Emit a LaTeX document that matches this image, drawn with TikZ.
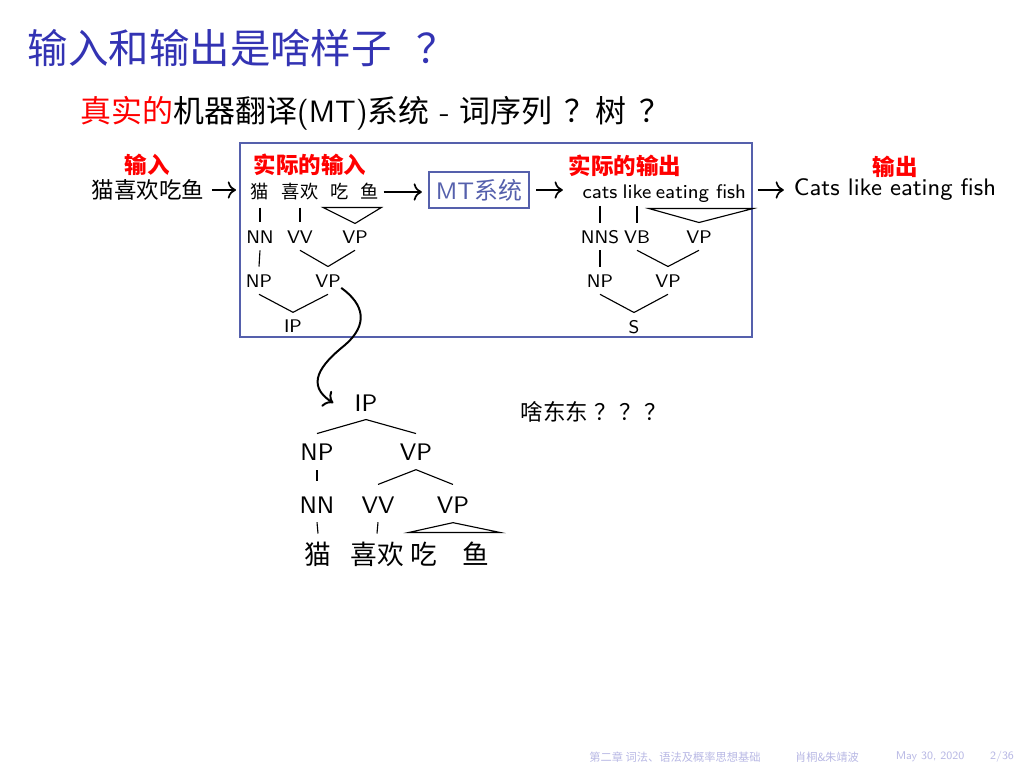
\documentclass[tikz,border=0pt]{standalone}
\usepackage{fontspec}
\newfontfamily\cjk{Noto Sans CJK SC}
\renewcommand{\familydefault}{\sfdefault}
\usetikzlibrary{arrows.meta}

\definecolor{slideblue}{HTML}{3333B3}
\definecolor{boxblue}{HTML}{5560AC}
\definecolor{footblue}{HTML}{B8B8E4}
\tikzstyle{hint} = [text=red, inner sep=0pt, font=\fontsize{8}{9}\selectfont\cjk\bfseries]
\tikzstyle{wd} = [inner sep=0pt, text height=5.5pt, text depth=1pt, font=\fontsize{6.5}{7}\selectfont\cjk]
\tikzstyle{ew} = [inner sep=0pt, text height=5pt, text depth=1.4pt, font=\fontsize{7}{8}\selectfont]
\tikzstyle{tag} = [inner sep=0pt, text height=4.5pt, text depth=0pt, font=\fontsize{6.5}{7}\selectfont]
\tikzstyle{bigwd} = [inner sep=0pt, text height=8pt, text depth=1.5pt, font=\fontsize{9.5}{11}\selectfont\cjk]
\tikzstyle{bigtag} = [inner sep=0pt, text height=5.9pt, text depth=0pt, font=\fontsize{8.5}{10}\selectfont]
\tikzstyle{arr} = [line width=.6pt, -{Computer Modern Rightarrow}]
\tikzstyle{br} = [line width=.4pt]
\tikzstyle{foot} = [inner sep=0pt, text=footblue, font=\fontsize{4}{5}\selectfont]

\begin{document}
\begin{tikzpicture}[x=0.125mm, y=-0.125mm]
\useasboundingbox (0,0) rectangle (1024,768);

% title and first line
\node[anchor=west, inner sep=0pt, text=slideblue, font=\fontsize{14.4}{17}\selectfont\cjk] (ttl) at (27,48) {输入和输出是啥样子\hspace{.6em}？};
\node[anchor=west, inner sep=0pt, font=\fontsize{11}{13}\selectfont] (sub) at (80,113)
	{{\cjk\color{red}真实的}{\cjk 机器翻译}(MT){\cjk 系统} - {\cjk 词序列\hspace{.4em}？树\hspace{.4em}？}};

% input and output
\node[hint] (inL) at (147,165) {输入};
\node[inner sep=0pt, font=\fontsize{8}{9}\selectfont\cjk] (inA) at (148,190) {猫喜欢吃鱼};
\node[hint] (outL) at (895,167) {输出};
\node[inner sep=0pt, font=\fontsize{8.5}{10}\selectfont] (outB) at (895,190) {Cats like eating fish};

% the system
\node[draw=boxblue, line width=.6pt, inner sep=0pt, minimum width=64mm, minimum height=24.25mm] (sys) at (496,240) {};
\node[hint] (actIn) at (310,165) {实际的输入};
\node[hint] (actOut) at (625,166) {实际的输出};
\node[draw=boxblue, line width=.8pt, text=boxblue, inner sep=0pt, minimum width=12.5mm, minimum height=4.5mm,
	font=\fontsize{8.5}{10}\selectfont] (mt) at (479,190) {MT{\cjk 系统}};

% source tree
\node[wd] (w1) at (260,192) {猫};
\node[wd] (w2) at (300,192) {喜欢};
\node[wd] (w3) at (340,192) {吃};
\node[wd] (w4) at (370,192) {鱼};
\node[tag] (t1) at (260,237) {NN};
\node[tag] (t2) at (300,237) {VV};
\node[tag] (t3) at (355,237) {VP};
\node[tag] (p1) at (259,281) {NP};
\node[tag] (p2) at (328,281) {VP};
\node[tag] (r) at (293,326) {IP};
\foreach \a/\b/\g/\h in {w1/t1/.75/1.05, w2/t2/.75/1.05, t1/p1/.8/.95, t2/p2/.8/.95, t3/p2/.8/.95, p1/r/.8/.85, p2/r/.8/.85}
	\draw[br] ([yshift=-\g mm]\a.south) -- ([yshift=\h mm]\b.north);
\draw[br] ([xshift=-.9mm,yshift=-.73mm]w3.south west) -- ([xshift=.2mm,yshift=-.73mm]w4.south east)
	-- ([yshift=.83mm]t3.north) -- cycle;

% target tree
\node[ew] (o1) at (600,193) {cats};
\node[ew] (o2) at (637,193) {like};
\node[ew] (o3) at (701,193) {eating fish};
\node[tag] (u1) at (600,237) {NNS};
\node[tag] (u2) at (637,237) {VB};
\node[tag] (u3) at (699,237) {VP};
\node[tag] (q1) at (600,281) {NP};
\node[tag] (q2) at (668,281) {VP};
\node[tag] (s) at (634,327) {S};
\foreach \a/\b/\g/\h in {o1/u1/.4/.95, o2/u2/.4/.95, u1/q1/.8/.95, u2/q2/.8/.95, u3/q2/.8/.95, q1/s/.8/.95, q2/s/.8/.95}
	\draw[br] ([yshift=-\g mm]\a.south) -- ([yshift=\h mm]\b.north);
\draw[br] ([xshift=-.8mm,yshift=-.75mm]o3.south west) -- ([xshift=.8mm,yshift=-.75mm]o3.south east)
	-- ([yshift=.95mm]u3.north) -- cycle;

% arrows
\draw[arr, shorten <=.9mm, shorten >=.4mm] (inA.east) -- (inA.east -| sys.west);
\draw[arr, shorten <=.5mm, shorten >=.75mm] (w4.east) -- (w4.east -| mt.west);
\draw[arr, shorten <=.75mm, shorten >=2.4mm] (mt.east) -- (mt.east -| o1.west);
\draw[arr, shorten <=.6mm, shorten >=1.2mm] (outB.west -| sys.east) -- (outB.west);

% the tree as it should be
\node[bigtag] (L0) at (366,403) {IP};
\node[bigtag] (L1) at (317,452) {NP};
\node[bigtag] (L2) at (416,452) {VP};
\node[bigtag] (L3) at (317,505) {NN};
\node[bigtag] (L4) at (378,505) {VV};
\node[bigtag] (L5) at (453,505) {VP};
\node[bigwd] (L6) at (318,555) {猫};
\node[bigwd] (L7) at (377,555) {喜欢};
\node[bigwd] (L8) at (424,555) {吃};
\node[bigwd] (L9) at (476,555) {鱼};
\foreach \a/\b/\g/\h in {L0/L1/.96/1.2, L0/L2/.96/1.2, L1/L3/1.2/1.84, L2/L4/1.1/1.46, L2/L5/1.1/1.46, L3/L6/1.05/.95, L4/L7/1.05/.95}
	\draw[br] ([yshift=-\g mm]\a.south) -- ([yshift=\h mm]\b.north);
\draw[br] ([yshift=-1.1mm]L5.south) -- ([xshift=-.2mm,yshift=1.07mm]L8.north west)
	-- ([xshift=1.3mm,yshift=1.07mm]L9.north east) -- cycle;
\node[anchor=west, inner sep=0pt, font=\fontsize{8}{9}\selectfont\cjk] (what) at (520,412) {啥东东\hspace{.3em}？\hspace{.1em}？\hspace{.1em}？};

\draw[line width=.7pt, -{Computer Modern Rightarrow}] (p2.south east) .. controls (365,305) and (368,325) .. (345,345)
	.. controls (320,365) and (305,385) .. ([xshift=-2.6mm]L0.west);

% footer
\node[foot] (f1) at (675,757) {\cjk 第二章 词法、语法及概率思想基础};
\node[foot] (f2) at (827,757) {\cjk 肖桐\&朱靖波};
\node[foot] (f3) at (930,757) {May 30, 2020};
\node[foot] (f4) at (1002,757) {2/36};
\end{tikzpicture}
\end{document}
